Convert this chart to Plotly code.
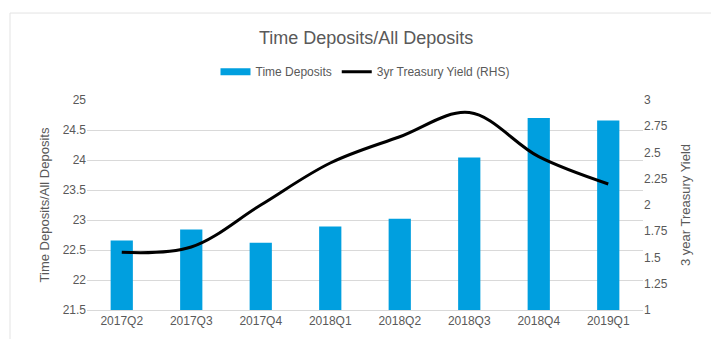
import plotly.graph_objects as go

quarters = ["2017Q2", "2017Q3", "2017Q4", "2018Q1", "2018Q2", "2018Q3", "2018Q4", "2019Q1"]
time_deposits = [22.66, 22.84, 22.62, 22.89, 23.02, 24.04, 24.70, 24.66]
treasury_3yr = [1.55, 1.60, 2.00, 2.40, 2.65, 2.88, 2.46, 2.20]

FONT = "Liberation Sans, Arial, sans-serif"
GREY = "#595959"
BLUE = "#009FDF"

fig = go.Figure()
fig.add_trace(go.Bar(x=quarters, y=time_deposits, name="Time Deposits",
                     marker=dict(color=BLUE, line=dict(width=0)), showlegend=False,
                     legendgroup="td"))
# legend entry drawn as a wide bar swatch
fig.add_trace(go.Scatter(x=[None], y=[None], name="Time Deposits", mode="lines",
                         line=dict(color=BLUE, width=7), legendgroup="td"))
fig.add_trace(go.Scatter(x=quarters, y=treasury_3yr, name="3yr Treasury Yield (RHS)",
                         mode="lines", line=dict(color="black", width=3, shape="spline", smoothing=1.0),
                         yaxis="y2"))

fig.update_layout(
    width=711, height=339,
    margin=dict(l=87, r=68, t=100, b=29),
    paper_bgcolor="white", plot_bgcolor="white",
    font=dict(family=FONT, size=12, color=GREY),
    title=dict(text="Time Deposits/All Deposits", x=0.515, xanchor="center", y=0.89, yanchor="middle",
               font=dict(family=FONT, size=18, color=GREY)),
    bargap=0.68,
    showlegend=True,
    legend=dict(orientation="h", x=0.5, xanchor="center", y=1.135, yanchor="middle",
                font=dict(family=FONT, size=12, color=GREY), itemwidth=30, tracegroupgap=0),
    xaxis=dict(showgrid=False, showline=True, linecolor="#d9d9d9", linewidth=1,
               tickfont=dict(family=FONT, size=12, color=GREY), ticks=""),
    yaxis=dict(range=[21.5, 25], dtick=0.5, showgrid=True, gridcolor="#d9d9d9", gridwidth=1,
               zeroline=False, ticks="", tickfont=dict(family=FONT, size=12, color=GREY),
               title=dict(text="Time Deposits/All Deposits", font=dict(family=FONT, size=13, color=GREY), standoff=10)),
    yaxis2=dict(range=[1, 3], dtick=0.25, overlaying="y", side="right", showgrid=False,
                zeroline=False, ticks="", tickfont=dict(family=FONT, size=12, color=GREY),
                title=dict(text="3 year Treasury Yield", font=dict(family=FONT, size=13, color=GREY), standoff=14)),
    shapes=[dict(type="rect", xref="paper", yref="paper", x0=-0.1385, x1=1.2, y0=-0.3, y1=1.414,
                 line=dict(color="#e3e3e3", width=1), fillcolor="rgba(0,0,0,0)", layer="below")],
)

fig.write_html("out.html")
